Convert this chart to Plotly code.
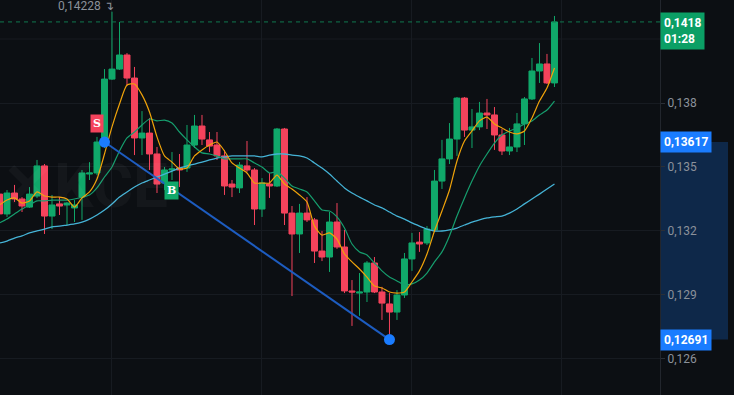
import plotly.graph_objects as go

candle_idx = list(range(75))

open_ = [0.13373, 0.13280, 0.13378, 0.13350, 0.13312, 0.13364, 0.13505, 0.13270, 0.13327, 0.13322,
         0.13308, 0.13359, 0.13467, 0.13472, 0.13603, 0.13912, 0.13959, 0.14025, 0.13917, 0.13636,
         0.13659, 0.13561, 0.13425, 0.13486, 0.13495, 0.13495, 0.13603, 0.13692, 0.13627, 0.13603,
         0.13552, 0.13420, 0.13402, 0.13505, 0.13486, 0.13303, 0.13420, 0.13411, 0.13678, 0.13284,
         0.13186, 0.13284, 0.13252, 0.13106, 0.13078, 0.13242, 0.13125, 0.12919, 0.12909, 0.12914,
         0.13050, 0.12914, 0.12858, 0.12820, 0.12900, 0.13069, 0.13148, 0.13144, 0.13205, 0.13434,
         0.13538, 0.13631, 0.13823, 0.13673, 0.13688, 0.13753, 0.13744, 0.13650, 0.13575, 0.13594,
         0.13702, 0.13819, 0.13950, 0.13983, 0.13894]
high = [0.13392, 0.13392, 0.13416, 0.13359, 0.13406, 0.13533, 0.13514, 0.13369, 0.13359, 0.13336,
        0.13345, 0.13486, 0.13523, 0.13641, 0.13959, 0.14228, 0.14180, 0.14034, 0.13969, 0.13762,
        0.13730, 0.13594, 0.13500, 0.13570, 0.13561, 0.13697, 0.13744, 0.13744, 0.13664, 0.13664,
        0.13580, 0.13439, 0.13523, 0.13622, 0.13495, 0.13448, 0.13472, 0.13683, 0.13683, 0.13317,
        0.13327, 0.13359, 0.13261, 0.13200, 0.13289, 0.13331, 0.13205, 0.12970, 0.13003, 0.13059,
        0.13078, 0.12938, 0.12909, 0.12923, 0.13097, 0.13191, 0.13195, 0.13223, 0.13486, 0.13627,
        0.13706, 0.13828, 0.13828, 0.13772, 0.13805, 0.13819, 0.13781, 0.13678, 0.13683, 0.13753,
        0.13828, 0.14011, 0.14081, 0.14030, 0.14208]
low = [0.13270, 0.13266, 0.13336, 0.13289, 0.13308, 0.13355, 0.13186, 0.13209, 0.13275, 0.13228,
       0.13242, 0.13252, 0.13439, 0.13462, 0.13589, 0.13908, 0.13955, 0.13880, 0.13556, 0.13556,
       0.13486, 0.13378, 0.13392, 0.13439, 0.13406, 0.13477, 0.13589, 0.13603, 0.13570, 0.13533,
       0.13369, 0.13359, 0.13378, 0.13477, 0.13228, 0.13266, 0.13355, 0.13406, 0.13228, 0.12895,
       0.13097, 0.13242, 0.13050, 0.13059, 0.13008, 0.13116, 0.12909, 0.12755, 0.12802, 0.12867,
       0.12909, 0.12783, 0.12691, 0.12783, 0.12886, 0.13013, 0.13102, 0.13134, 0.13195, 0.13397,
       0.13514, 0.13552, 0.13641, 0.13589, 0.13673, 0.13678, 0.13580, 0.13556, 0.13556, 0.13570,
       0.13603, 0.13814, 0.13894, 0.13889, 0.13875]
close = [0.13280, 0.13378, 0.13350, 0.13317, 0.13373, 0.13505, 0.13270, 0.13322, 0.13317, 0.13331,
         0.13322, 0.13472, 0.13472, 0.13617, 0.13912, 0.13959, 0.14025, 0.13917, 0.13636, 0.13659,
         0.13561, 0.13420, 0.13486, 0.13491, 0.13486, 0.13603, 0.13692, 0.13631, 0.13598, 0.13552,
         0.13411, 0.13406, 0.13509, 0.13486, 0.13303, 0.13425, 0.13411, 0.13678, 0.13284, 0.13186,
         0.13284, 0.13252, 0.13106, 0.13078, 0.13242, 0.13125, 0.12919, 0.12914, 0.12914, 0.13050,
         0.12914, 0.12862, 0.12820, 0.12900, 0.13069, 0.13144, 0.13139, 0.13209, 0.13434, 0.13538,
         0.13631, 0.13823, 0.13673, 0.13688, 0.13753, 0.13744, 0.13650, 0.13575, 0.13594, 0.13702,
         0.13819, 0.13950, 0.13983, 0.13894, 0.14180]

ma5 = [0.13322, 0.13345, 0.13355, 0.13331, 0.13341, 0.13383, 0.13364, 0.13359, 0.13359, 0.13350,
       0.13312, 0.13355, 0.13383, 0.13444, 0.13561, 0.13688, 0.13795, 0.13884, 0.13889, 0.13838,
       0.13758, 0.13641, 0.13552, 0.13523, 0.13491, 0.13495, 0.13552, 0.13580, 0.13603, 0.13617,
       0.13575, 0.13519, 0.13495, 0.13472, 0.13425, 0.13425, 0.13425, 0.13462, 0.13420, 0.13397,
       0.13369, 0.13336, 0.13223, 0.13181, 0.13191, 0.13162, 0.13092, 0.13055, 0.13022, 0.12984,
       0.12942, 0.12933, 0.12914, 0.12909, 0.12914, 0.12961, 0.13013, 0.13092, 0.13200, 0.13294,
       0.13392, 0.13528, 0.13622, 0.13669, 0.13716, 0.13734, 0.13702, 0.13683, 0.13664, 0.13655,
       0.13669, 0.13730, 0.13809, 0.13870, 0.13964]
ma10 = [0.13238, 0.13256, 0.13280, 0.13303, 0.13322, 0.13341, 0.13341, 0.13345, 0.13345, 0.13345,
        0.13350, 0.13359, 0.13369, 0.13402, 0.13453, 0.13500, 0.13575, 0.13636, 0.13664, 0.13697,
        0.13725, 0.13716, 0.13720, 0.13706, 0.13664, 0.13627, 0.13594, 0.13566, 0.13561, 0.13552,
        0.13538, 0.13538, 0.13538, 0.13538, 0.13519, 0.13500, 0.13472, 0.13477, 0.13448, 0.13411,
        0.13397, 0.13383, 0.13341, 0.13298, 0.13294, 0.13266, 0.13214, 0.13139, 0.13102, 0.13088,
        0.13050, 0.13013, 0.12984, 0.12966, 0.12947, 0.12952, 0.12970, 0.13003, 0.13055, 0.13102,
        0.13177, 0.13270, 0.13355, 0.13434, 0.13505, 0.13561, 0.13612, 0.13650, 0.13669, 0.13683,
        0.13702, 0.13716, 0.13744, 0.13767, 0.13809]
ma30 = [0.13144, 0.13153, 0.13167, 0.13177, 0.13191, 0.13200, 0.13209, 0.13219, 0.13223, 0.13228,
        0.13233, 0.13242, 0.13256, 0.13275, 0.13298, 0.13327, 0.13359, 0.13383, 0.13406, 0.13425,
        0.13439, 0.13453, 0.13467, 0.13481, 0.13495, 0.13505, 0.13514, 0.13523, 0.13533, 0.13542,
        0.13547, 0.13552, 0.13552, 0.13552, 0.13552, 0.13547, 0.13556, 0.13561, 0.13561, 0.13556,
        0.13552, 0.13542, 0.13519, 0.13495, 0.13467, 0.13434, 0.13402, 0.13378, 0.13359, 0.13341,
        0.13322, 0.13308, 0.13289, 0.13270, 0.13256, 0.13238, 0.13223, 0.13209, 0.13200, 0.13200,
        0.13205, 0.13214, 0.13228, 0.13242, 0.13252, 0.13261, 0.13266, 0.13270, 0.13284, 0.13303,
        0.13327, 0.13350, 0.13373, 0.13397, 0.13420]

y_ticks = [0.126, 0.129, 0.132, 0.135, 0.138]
hidden_grid = 0.141
last_price = 0.1418
countdown = "01:28"
period_high = 0.14228
trend_idx = [14, 52]
trend_price = [0.13617, 0.12691]
sell_mark = (13, 0.13702)
buy_mark = (23, 0.13392)

BG = "#0c0f13"
GREEN = "#10a86a"
RED = "#f4435c"
GRID = "#171b21"

fig = go.Figure()
fig.add_trace(go.Candlestick(
    x=candle_idx, open=open_, high=high, low=low, close=close,
    increasing=dict(line=dict(color=GREEN, width=1), fillcolor=GREEN),
    decreasing=dict(line=dict(color=RED, width=1), fillcolor=RED),
    whiskerwidth=0, hoverinfo="skip", showlegend=False))
fig.add_trace(go.Scatter(x=candle_idx, y=ma30, mode="lines",
                         line=dict(color="#45b3d6", width=1.3, shape="spline", smoothing=0.6),
                         hoverinfo="skip", showlegend=False))
fig.add_trace(go.Scatter(x=candle_idx, y=ma10, mode="lines",
                         line=dict(color="#169e6e", width=1.2, shape="spline", smoothing=0.6),
                         hoverinfo="skip", showlegend=False))
fig.add_trace(go.Scatter(x=candle_idx, y=ma5, mode="lines",
                         line=dict(color="#f0a30a", width=1.2, shape="spline", smoothing=0.6),
                         hoverinfo="skip", showlegend=False))
fig.add_trace(go.Scatter(x=trend_idx, y=trend_price, mode="lines+markers",
                         line=dict(color="#1d5cc0", width=2),
                         marker=dict(size=11, color="#1a7cff"),
                         hoverinfo="skip", showlegend=False))

fig.update_layout(
    width=734, height=395,
    margin=dict(l=0, r=74, t=0, b=0, autoexpand=False),
    paper_bgcolor=BG, plot_bgcolor=BG,
    separators=",.",
    showlegend=False,
    boxgap=0.2, boxgroupgap=0,
    xaxis=dict(range=[0.067, 88.07], showgrid=True, gridcolor=GRID, gridwidth=1,
               tickvals=[15, 35, 55, 75], showticklabels=False, zeroline=False,
               rangeslider=dict(visible=False), showline=False, ticks=""),
    yaxis=dict(side="right", range=[0.124312, 0.142828], tickvals=y_ticks,
               tickformat=".3f", showgrid=True, gridcolor=GRID, zeroline=False,
               tickfont=dict(family="Roboto", size=12, color="#8b919a"),
               ticks="outside", ticklen=4, tickcolor="#2a2f37",
               showline=True, linecolor="#22262d", linewidth=1),
    shapes=[
        dict(type="rect", xref="paper", yref="y", x0=1.0, x1=728 / 660,
             y0=trend_price[1], y1=trend_price[0], fillcolor="#0e2849",
             line=dict(width=0), layer="below"),
        dict(type="line", xref="paper", yref="y", x0=0, x1=1, y0=hidden_grid, y1=hidden_grid,
             line=dict(color=GRID, width=1), layer="below"),
        dict(type="line", xref="paper", yref="y", x0=0, x1=1, y0=last_price, y1=last_price,
             line=dict(color="#10784f", width=1, dash="4px,4px")),
    ],
    annotations=[
        dict(x=15, y=period_high, xref="x", yref="y", text="0,14228 ↴", showarrow=False,
             xanchor="right", yanchor="middle", xshift=4, yshift=6,
             font=dict(family="Roboto", size=12, color="#8b919a")),
        dict(x=1.0, y=last_price, xref="paper", yref="y",
             text=f"<b>0,1418</b><br><b>{countdown}</b>", showarrow=False,
             xanchor="left", yanchor="top", yshift=10, align="left",
             bgcolor="#0b9f65", borderpad=3,
             font=dict(family="Roboto", size=12, color="white")),
        dict(x=1.0, y=trend_price[0], xref="paper", yref="y", text="<b>0,13617</b>",
             showarrow=False, xanchor="left", yanchor="middle", bgcolor="#1a7cff", borderpad=3,
             font=dict(family="Roboto", size=12, color="white")),
        dict(x=1.0, y=trend_price[1], xref="paper", yref="y", text="<b>0,12691</b>",
             showarrow=False, xanchor="left", yanchor="middle", bgcolor="#1a7cff", borderpad=3,
             font=dict(family="Roboto", size=12, color="white")),
        dict(x=sell_mark[0], y=sell_mark[1], xref="x", yref="y", text="<b>S</b>",
             showarrow=False, bgcolor=RED, borderpad=2,
             font=dict(family="DejaVu Serif", size=11, color="white")),
        dict(x=buy_mark[0], y=buy_mark[1], xref="x", yref="y", text="<b>B</b>",
             showarrow=False, bgcolor=GREEN, borderpad=2,
             font=dict(family="DejaVu Serif", size=11, color="white")),
        dict(x=0.0, y=0.53, xref="paper", yref="paper", text="<b>✕KCE</b>", showarrow=False,
             xanchor="left", yanchor="middle",
             font=dict(family="Roboto", size=62, color="rgba(255,255,255,0.035)")),
    ],
)

fig.write_html("out.html", config={"displayModeBar": False},
               post_script="document.body.style.margin='0';")
